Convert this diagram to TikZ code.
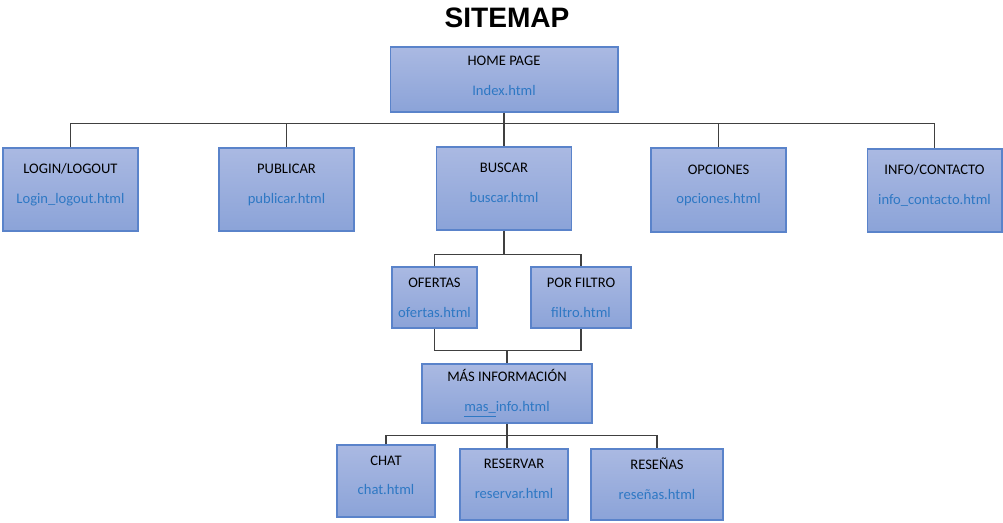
\documentclass[tikz,border=0pt]{standalone}
\usepackage{fontspec}
\setmainfont{Carlito}
\newfontfamily\titlefont{Liberation Sans}
\usetikzlibrary{positioning}

\definecolor{boxtop}{HTML}{AAB9E2}
\definecolor{boxbot}{HTML}{8BA3D8}
\definecolor{boxedge}{HTML}{5A83CA}
\definecolor{linkblue}{HTML}{2E78C4}
\definecolor{wiregray}{HTML}{404040}

\begin{document}
\begin{tikzpicture}[
    x=0.02cm, y=-0.02cm,
    page/.style={rectangle, draw=boxedge, line width=0.6pt, top color=boxtop, bottom color=boxbot, align=center, font=\fontsize{8.3}{10}\selectfont, inner sep=2pt},
    raised/.style={page, text depth=6.5pt},
    wire/.style={draw=wiregray, line width=0.9pt}
]
    \useasboundingbox (0,0) rectangle (1003,523);

    \node[font=\titlefont\bfseries\fontsize{16}{18}\selectfont] (title) at (507,18) {SITEMAP};

    % level 0
    \node[page, text depth=4pt, minimum width=4.56cm, minimum height=1.3cm] (home) at (504,79.5) {HOME PAGE\\[7pt]\textcolor{linkblue}{Index.html}};

    % level 1
    \node[raised, minimum width=2.7cm, minimum height=1.66cm] (login) at (70.5,189.5) {LOGIN/LOGOUT\\[7pt]\textcolor{linkblue}{Login\_logout.html}};
    \node[raised, minimum width=2.7cm, minimum height=1.66cm] (publicar) at (286.5,189.5) {PUBLICAR\\[7pt]\textcolor{linkblue}{publicar.html}};
    \node[raised, minimum width=2.7cm, minimum height=1.66cm] (buscar) at (504,188.5) {BUSCAR\\[7pt]\textcolor{linkblue}{buscar.html}};
    \node[raised, minimum width=2.7cm, minimum height=1.68cm] (opciones) at (718.5,190) {OPCIONES\\[7pt]\textcolor{linkblue}{opciones.html}};
    \node[raised, minimum width=2.7cm, minimum height=1.66cm] (info) at (934.5,190.5) {INFO/CONTACTO\\[7pt]\textcolor{linkblue}{info\_contacto.html}};

    % level 2
    \node[page, minimum width=1.7cm, minimum height=1.22cm] (ofertas) at (434.5,297.5) {OFERTAS\\[7pt]\textcolor{linkblue}{ofertas.html}};
    \node[page, minimum width=2.0cm, minimum height=1.22cm] (filtro) at (581,297.5) {POR FILTRO\\[7pt]\textcolor{linkblue}{filtro.html}};
    \node[page, minimum width=3.4cm, minimum height=1.18cm] (masinfo) at (507,393.5) {MÁS INFORMACIÓN\\[7pt]\textcolor{linkblue}{\underline{mas\_}info.html}};

    % level 3
    \node[raised, minimum width=1.96cm, minimum height=1.44cm] (chat) at (386,481) {CHAT\\[7pt]\textcolor{linkblue}{chat.html}};
    \node[raised, minimum width=2.16cm, minimum height=1.42cm] (reservar) at (514,484.5) {RESERVAR\\[7pt]\textcolor{linkblue}{reservar.html}};
    \node[raised, minimum width=2.64cm, minimum height=1.42cm] (resenas) at (657,484.5) {RESEÑAS\\[7pt]\textcolor{linkblue}{reseñas.html}};

    % bus points
    \coordinate[below=0.22cm of home.south] (bus);
    \coordinate[below=0.48cm of buscar.south] (split);
    \coordinate[above=0.26cm of masinfo.north] (join);
    \coordinate[below=0.24cm of masinfo.south] (fan);

    % connectors
    \draw[wire] (home.south) -- (buscar.north);
    \draw[wire] (login.north) |- (bus) -| (info.north);
    \draw[wire] (publicar.north) -- (publicar.north |- bus);
    \draw[wire] (opciones.north) -- (opciones.north |- bus);

    \draw[wire] (buscar.south) -- (split);
    \draw[wire] (ofertas.north) |- (split) -| (filtro.north);

    \draw[wire] (ofertas.south) |- (join) -| (filtro.south);
    \draw[wire] (join) -- (masinfo.north);

    \draw[wire] (chat.north) |- (fan) -| (resenas.north);
    \draw[wire] (masinfo.south) -- (masinfo.south |- reservar.north);
\end{tikzpicture}
\end{document}
